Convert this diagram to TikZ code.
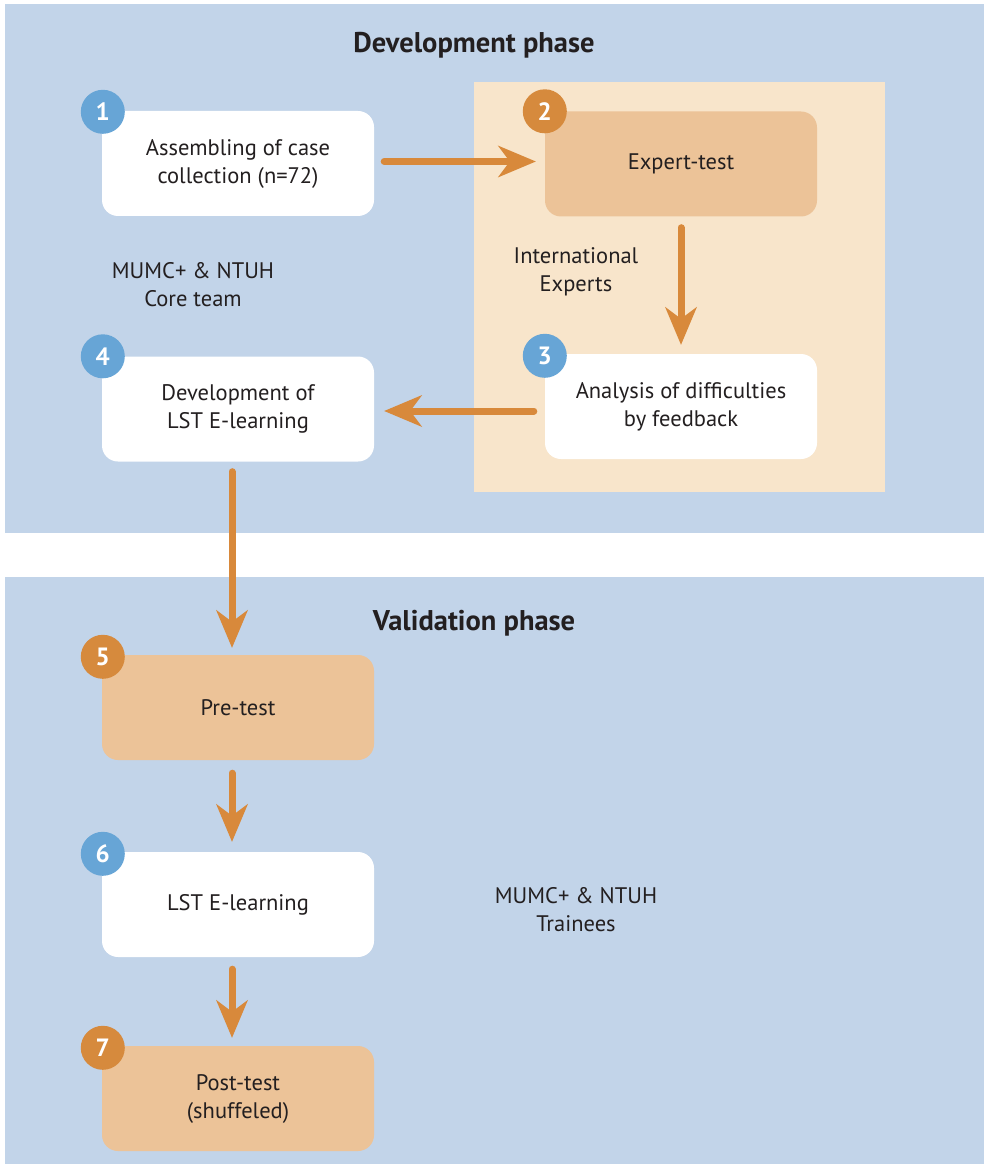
\documentclass[tikz,border=0pt]{standalone}
\usepackage{fontspec}
\setmainfont{PT Sans}
\usetikzlibrary{arrows.meta}
\definecolor{panelblue}{HTML}{C2D4E9}
\definecolor{panelbeige}{HTML}{F8E5CB}
\definecolor{boxorange}{HTML}{ECC398}
\definecolor{arroworange}{HTML}{D8893B}
\definecolor{badgeblue}{HTML}{67A5D6}
\definecolor{badgeorange}{HTML}{D68A3D}
\definecolor{txt}{HTML}{231F20}
\tikzset{
  box/.style={rounded corners=16pt, minimum width=272pt, minimum height=105pt, align=center, text=txt, font=\fontsize{22.5}{28}\selectfont, inner sep=0pt},
  whitebox/.style={box, fill=white},
  orangebox/.style={box, fill=boxorange},
  badge/.style={circle, minimum size=44pt, inner sep=0pt, text=white, font=\fontsize{25}{25}\selectfont\bfseries},
  bluebadge/.style={badge, fill=badgeblue},
  orangebadge/.style={badge, fill=badgeorange},
  flow/.style={draw=arroworange, line width=7pt, line cap=round, -{Stealth[length=38pt, width=32pt, inset=12pt, line width=0pt, round=false]}},
  label/.style={align=center, text=txt, font=\fontsize{22.5}{28}\selectfont},
  title/.style={text=txt, font=\fontsize{28.5}{30}\selectfont\bfseries}
}
\begin{document}
\begin{tikzpicture}[x=1pt,y=-1pt]
\useasboundingbox (0,0) rectangle (987,1166);
% panels
\fill[panelblue] (5,4) rectangle (984,533);
\fill[panelblue] (5,577) rectangle (984,1164);
\fill[panelbeige] (474,82) rectangle (885,492);
% titles
\node[title] (t1) at (474,45) {Development phase};
\node[title] (t2) at (474,623) {Validation phase};
% boxes
\node[whitebox] (b1) at (238,163.5) {Assembling of case\\collection (n=72)};
\node[orangebox] (b2) at (681,164) {Expert-test};
\node[whitebox] (b3) at (681,406.5) {Analysis of difficulties\\by feedback};
\node[whitebox] (b4) at (238,409) {Development of\\LST E-learning};
\node[orangebox] (b5) at (238,707.5) {Pre-test};
\node[whitebox] (b6) at (238,904.5) {LST E-learning};
\node[orangebox] (b7) at (238,1098.5) {Post-test\\(shuffeled)};
% badges
\node[bluebadge] (n1) at ([shift={(1,1)}]b1.north west) {1};
\node[orangebadge] (n2) at ([shift={(0,0)}]b2.north west) {2};
\node[bluebadge] (n3) at ([shift={(0,2)}]b3.north west) {3};
\node[bluebadge] (n4) at ([shift={(1,0)}]b4.north west) {4};
\node[orangebadge] (n5) at ([shift={(1,2)}]b5.north west) {5};
\node[bluebadge] (n6) at ([shift={(1,2)}]b6.north west) {6};
\node[orangebadge] (n7) at ([shift={(1,2)}]b7.north west) {7};
% labels
\node[label] (l1) at (193,285) {MUMC+ \& NTUH\\Core team};
\node[label] (l2) at (576,272) {International\\Experts};
\node[label] (l3) at (576,910) {MUMC+ \& NTUH\\Trainees};
% arrows
\draw[flow, shorten <=10pt, shorten >=9pt] ([yshift=2pt]b1.east) -- ([yshift=2pt]b1.east -| b2.west);
\draw[flow, shorten <=11pt, shorten >=9pt] (b2.south) -- (b3.north);
\draw[flow, shorten <=11pt, shorten >=10pt] ([yshift=-4.5pt]b3.west) -- ([yshift=-4.5pt]b3.west -| b4.east);
\draw[flow, shorten <=10pt, shorten >=7pt] ([xshift=-6pt]b4.south) -- ([xshift=-6pt]b5.north);
\draw[flow, shorten <=13pt, shorten >=10pt] ([xshift=-6pt]b5.south) -- ([xshift=-6pt]b6.north);
\draw[flow, shorten <=12pt, shorten >=8pt] ([xshift=-6pt]b6.south) -- ([xshift=-6pt]b7.north);
\end{tikzpicture}
\end{document}
